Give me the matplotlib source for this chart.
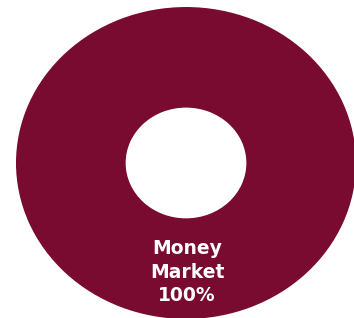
import matplotlib
matplotlib.use("Agg")
import matplotlib.pyplot as plt

labels = ["Money\nMarket"]
shares = [100]
colors = ["#790b31"]

fig = plt.figure(figsize=(3.54, 3.18), dpi=100)
ax = fig.add_axes([0, 0, 1, 1])

wedges, _ = ax.pie(shares, colors=colors, radius=1.0, startangle=90,
                   counterclock=False, wedgeprops=dict(width=0.645, edgecolor="none"))
ax.set_aspect("auto")
ax.set_xlim(-1.094, 0.988)
ax.set_ylim(-0.994, 1.045)
ax.axis("off")

for lab, val in zip(labels, shares):
    ax.text(0.006, -0.70, f"{lab}\n{val}%", ha="center", va="center",
            color="white", fontsize=13.5, fontweight="bold", linespacing=1.3)

fig.savefig("out.png", dpi=100, facecolor="white")
